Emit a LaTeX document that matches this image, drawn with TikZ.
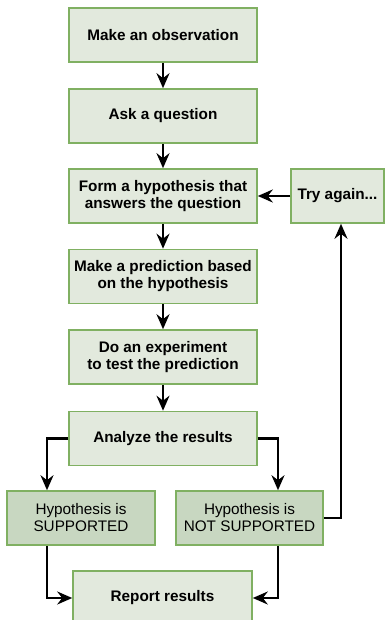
\documentclass[tikz,border=0pt]{standalone}
\usepackage{fontspec}
\setmainfont{Liberation Sans}
\usetikzlibrary{arrows.meta}
\definecolor{boxfill}{HTML}{E2E9DD}
\definecolor{boxfilldark}{HTML}{C8D7C1}
\definecolor{boxline}{HTML}{80B062}
\tikzset{
  stepbox/.style={rectangle, draw=boxline, line width=1.6pt, fill=boxfill,
    minimum width=188pt, minimum height=54pt, inner sep=0pt, align=center,
    font=\fontsize{15.3}{17}\selectfont\bfseries},
  resbox/.style={stepbox, fill=boxfilldark, minimum width=148pt,
    font=\fontsize{15.3}{17}\selectfont},
  conn/.style={line width=2.3pt, -{Stealth[length=15pt,width=13pt,inset=5pt]}}
}
\begin{document}
\begin{tikzpicture}[x=1pt,y=-1pt]
\useasboundingbox (0,0) rectangle (385,620);
\clip (0,0) rectangle (385,620);
\node[stepbox] (obs) at (163,35) {Make an observation};
\node[stepbox] (ask) at (163,116) {Ask a question};
\node[stepbox] (hyp) at (163,196) {Form a hypothesis that\\answers the question};
\node[stepbox] (pred) at (163,276.5) {Make a prediction based\\on the hypothesis};
\node[stepbox] (exp) at (163,357) {Do an experiment\\to test the prediction};
\node[stepbox] (ana) at (163,438.5) {Analyze the results};
\node[resbox] (sup) at (81,518) {Hypothesis is\\SUPPORTED};
\node[resbox, minimum width=147pt] (nsup) at (249.5,518) {Hypothesis is\\NOT SUPPORTED};
\node[stepbox, minimum width=179pt] (rep) at (162.5,598) {Report results};
\node[stepbox, minimum width=93pt] (try) at (337.5,196) {Try again...};

\draw[conn] (obs) -- (ask);
\draw[conn] (ask) -- (hyp);
\draw[conn] (hyp) -- (pred);
\draw[conn] (pred) -- (exp);
\draw[conn] (exp) -- (ana);
\draw[conn] (try) -- (hyp);
\draw[conn] (ana.west) -| ([xshift=-34pt]sup.north);
\draw[conn] (ana.east) -| ([xshift=28.5pt]nsup.north);
\draw[conn] ([xshift=-34pt]sup.south) |- (rep.west);
\draw[conn] ([xshift=28.5pt]nsup.south) |- (rep.east);
\draw[conn] (nsup.east) -| ([xshift=3.5pt]try.south);
\end{tikzpicture}
\end{document}
